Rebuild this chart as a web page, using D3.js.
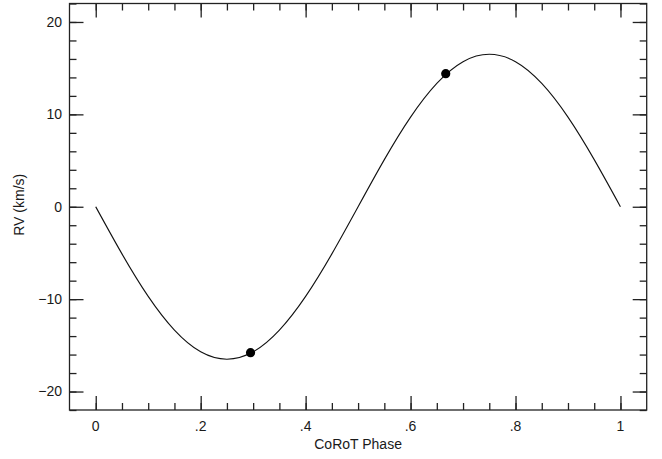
<!DOCTYPE html>
<html>
<head>
<meta charset="utf-8">
<script src="https://cdn.jsdelivr.net/npm/d3@7"></script>
<style>
	body { margin: 0; background: #fff; }
	text { font-family: "Liberation Sans", Arial, sans-serif; font-size: 14px; fill: #1a1a1a; }
</style>
</head>
<body>
<div id="chart"></div>
<script>
var margin = {
	top: 3.5,
	right: 15.3,
	bottom: 49,
	left: 69.5
};
var width = 662 - margin.left - margin.right;
var height = 459 - margin.top - margin.bottom;

// model curve, every .05 in phase
var curvePhase = [0, 0.05, 0.1, 0.15, 0.2, 0.25, 0.3, 0.35, 0.4, 0.45, 0.5,
	0.55, 0.6, 0.65, 0.7, 0.75, 0.8, 0.85, 0.9, 0.95, 1];
var curveRV = [0, -5.1, -9.7, -13.35, -15.7, -16.5, -15.7, -13.35, -9.7, -5.1, 0,
	5.1, 9.7, 13.35, 15.7, 16.5, 15.7, 13.35, 9.7, 5.1, 0];

// measured points
var obsPhase = [0.295, 0.667];
var obsRV = [-15.8, 14.4];

var xTicks = [0, 0.2, 0.4, 0.6, 0.8, 1];
var xTickLabels = ['0', '.2', '.4', '.6', '.8', '1'];
var yTicks = [-20, -10, 0, 10, 20];
var yTickLabels = ['\u221220', '\u221210', '0', '10', '20'];

var x = d3.scaleLinear().domain([-0.05, 1.05]).range([0, width]);
var y = d3.scaleLinear().domain([-22, 22]).range([height, 0]);

var svg = d3.select('#chart').append('svg')
	.attr('width', 662)
	.attr('height', 459)
	.append('g')
	.attr('transform', 'translate(' + margin.left + ',' + margin.top + ')');

// minor ticks
var xMinor = d3.range(0, 21).map(function(i) { return i * 0.05; });
var yMinor = d3.range(-11, 12).map(function(i) { return i * 2; });

function drawTicks(axisFn, scale, values, size, transform) {
	svg.append('g')
		.attr('class', 'axis')
		.attr('transform', transform || null)
		.call(axisFn(scale).tickValues(values).tickSize(size).tickFormat(''))
		.call(function(g) {
			g.select('.domain').remove();
			g.selectAll('line').attr('stroke', '#222').attr('stroke-width', 1.3);
		});
}

// ticks drawn inward on all four sides
drawTicks(d3.axisTop, x, xMinor, 7, 'translate(0,' + height + ')');
drawTicks(d3.axisTop, x, xTicks, 14, 'translate(0,' + height + ')');
drawTicks(d3.axisBottom, x, xMinor, 7);
drawTicks(d3.axisBottom, x, xTicks, 14);
drawTicks(d3.axisRight, y, yMinor, 7);
drawTicks(d3.axisRight, y, yTicks, 14);
drawTicks(d3.axisLeft, y, yMinor, 7, 'translate(' + width + ',0)');
drawTicks(d3.axisLeft, y, yTicks, 14, 'translate(' + width + ',0)');

// frame
svg.append('rect')
	.attr('width', width)
	.attr('height', height)
	.attr('fill', 'none')
	.attr('stroke', '#222')
	.attr('stroke-width', 1.3);

// tick labels
svg.selectAll('.xlab')
	.data(xTicks)
	.enter().append('text')
	.attr('class', 'xlab')
	.attr('x', function(d) { return x(d); })
	.attr('y', height + 15.7)
	.attr('dy', '.35em')
	.style('text-anchor', 'middle')
	.text(function(d, i) { return xTickLabels[i]; });

svg.selectAll('.ylab')
	.data(yTicks)
	.enter().append('text')
	.attr('class', 'ylab')
	.attr('x', -7.5)
	.attr('y', function(d) { return y(d); })
	.attr('dy', '.35em')
	.style('text-anchor', 'end')
	.text(function(d, i) { return yTickLabels[i]; });

// axis titles
svg.append('text')
	.attr('x', x(0.5))
	.attr('y', height + 34)
	.attr('dy', '.35em')
	.style('text-anchor', 'middle')
	.text('CoRoT Phase');

svg.append('text')
	.attr('transform', 'translate(' + (19 - margin.left) + ',' + (y(0) - 2) + ') rotate(-90)')
	.attr('dy', '.35em')
	.style('text-anchor', 'middle')
	.text('RV (km/s)');

// model curve
var line = d3.line()
	.x(function(d, i) { return x(curvePhase[i]); })
	.y(function(d) { return y(d); })
	.curve(d3.curveNatural);

svg.append('path')
	.datum(curveRV)
	.attr('fill', 'none')
	.attr('stroke', '#111')
	.attr('stroke-width', 1.1)
	.attr('d', line);

// data points
svg.selectAll('.dot')
	.data(obsRV)
	.enter().append('circle')
	.attr('class', 'dot')
	.attr('cx', function(d, i) { return x(obsPhase[i]); })
	.attr('cy', function(d) { return y(d); })
	.attr('r', 4.6)
	.attr('fill', '#000');
</script>
</body>
</html>
